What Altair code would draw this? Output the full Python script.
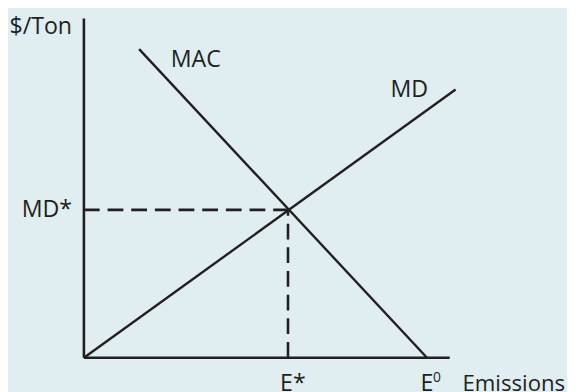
import altair as alt
import pandas as pd

# Values (origin of the diagram at 0,0)
E_star = 207
MD_star = 150
E_zero = 348
axis_x_end = 371
axis_y_end = 344

mac_x = [56, E_zero]
mac_y = [313, 0]
md_x = [0, 377]
md_y = [0, 272]

BG = "#e0edf1"
INK = "#231f20"
FONT = "Open Sans"
FS = 23.5

xs = alt.Scale(domain=[-77, 490])
ys = alt.Scale(domain=[-32, 352])

def X(f="x"):
    return alt.X(f"{f}:Q", scale=xs, axis=None)

def Y(f="y"):
    return alt.Y(f"{f}:Q", scale=ys, axis=None)

axes_df = pd.DataFrame({"x": [0, 0], "y": [0, 0], "x2": [0, axis_x_end], "y2": [axis_y_end, 0]})
axes = alt.Chart(axes_df).mark_rule(color=INK, strokeWidth=2.6).encode(
    x=X(), y=Y(), x2="x2:Q", y2="y2:Q"
)

curves_df = pd.DataFrame({
    "x": mac_x + md_x,
    "y": mac_y + md_y,
    "curve": ["MAC", "MAC", "MD", "MD"],
})
curves = alt.Chart(curves_df).mark_line(color=INK, strokeWidth=2.4).encode(
    x=X(), y=Y(), detail="curve:N"
)

dash_df = pd.DataFrame({"x": [0, E_star], "y": [MD_star, 0], "x2": [E_star, E_star], "y2": [MD_star, MD_star]})
dashes = alt.Chart(dash_df).mark_rule(color=INK, strokeWidth=2.6, strokeDash=[16, 8]).encode(
    x=X(), y=Y(), x2="x2:Q", y2="y2:Q"
)

def label(text, x, y, align="left", size=FS, dx=0, dy=0):
    df = pd.DataFrame({"x": [x], "y": [y], "t": [text]})
    return alt.Chart(df).mark_text(
        font=FONT, fontSize=size, color=INK, align=align, baseline="alphabetic", dx=dx, dy=dy
    ).encode(x=X(), y=Y(), text="t:N")

labels = [
    label("$/Ton", 0, axis_y_end, align="right", dx=-12, dy=16),
    label("MD*", 0, MD_star, align="right", dx=-12, dy=7),
    label("MAC", 88, 295),
    label("MD", 311, 264),
    label("E*", E_star, 0, align="center", dx=5, dy=34),
    label("E", E_zero, 0, align="center", dx=0, dy=34),
    label("0", E_zero, 0, align="left", size=14, dx=6, dy=25),
    label("Emissions", axis_x_end, 0, align="left", size=22.5, dx=13, dy=34),
]

chart = alt.layer(axes, dashes, curves, *labels).properties(
    width=567, height=384, background=BG, padding=0,
    autosize=alt.AutoSizeParams(type="none"),
).configure_view(stroke=None)

chart.save("out.html", embed_options={"renderer": "svg", "actions": False})
